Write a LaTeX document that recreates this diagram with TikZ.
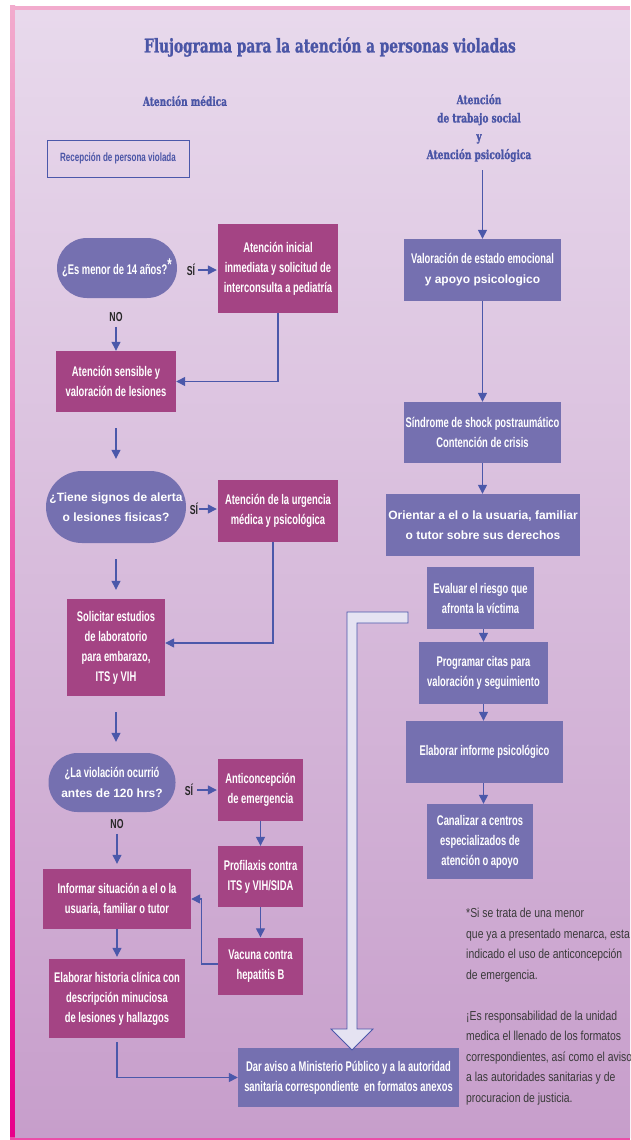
\documentclass[tikz,border=0pt]{standalone}
\usepackage{fontspec}
\setmainfont{Liberation Sans}
\newfontfamily\condf[FakeStretch=0.67]{Liberation Sans}
\newfontfamily\narrowf[FakeStretch=0.8]{Liberation Sans}
\newfontfamily\slabf[FakeStretch=0.72,FakeBold=1.2]{DejaVu Serif}
\newcommand\arl{\normalfont\bfseries\fontsize{12}{20}\selectfont}
\usetikzlibrary{arrows.meta}
\definecolor{pur}{HTML}{7570B0}
\definecolor{mag}{HTML}{A44484}
\definecolor{ablue}{HTML}{4B58AA}
\definecolor{tblue}{HTML}{4A55A6}
\definecolor{bgtop}{HTML}{E8D9EC}
\definecolor{bgmid}{HTML}{D5B7DA}
\definecolor{bgbot}{HTML}{C79ECB}
\definecolor{pinkb}{HTML}{F2ABCD}
\definecolor{magb}{HTML}{E8008A}
\definecolor{hollow}{HTML}{E5E3F2}
\definecolor{notec}{HTML}{3A3A3A}
\begin{document}
\begin{tikzpicture}[x=1pt,y=-1pt,
  box/.style={rectangle, inner sep=2pt, align=center, text=white, font=\condf\bfseries\fontsize{14}{20}\selectfont},
  pbox/.style={box, fill=pur},
  mbox/.style={box, fill=mag},
  dec/.style={box, fill=pur, rounded corners=#1},
  conn/.style={draw=ablue, line width=1.3pt, -{Triangle[width=9pt,length=9pt]}},
  lbl/.style={font=\condf\bfseries\fontsize{13}{14}\selectfont, text=black!85, inner sep=0pt},
  hdr/.style={font=\slabf\bfseries\fontsize{12.5}{18.3}\selectfont, text=tblue, align=center, inner sep=0pt},
]
\useasboundingbox (0,0) rectangle (630,1140);
\clip (0,0) rectangle (630,1140);
% background
\fill[white] (0,0) rectangle (630,1140);
\fill[pinkb] (10,6) rectangle (630,11);
\shade[top color=pinkb, bottom color=magb] (10,6) rectangle (15,1140);
\fill[magb!55!pinkb] (10,1137) rectangle (630,1140);
\shade[top color=bgtop, middle color=bgmid, bottom color=bgbot] (15,11) rectangle (630,1137);

% titles
\node[font=\slabf\bfseries\fontsize{19}{22}\selectfont, text=tblue] (title) at (330,47) {Flujograma para la atención a personas violadas};
\node[hdr] (hmed) at (185,101) {Atención médica};
\node[hdr] (hpsi) at (479,128) {Atención\\de trabajo social\\y\\Atención psicológica};
\node[draw=ablue, line width=1pt, minimum width=142, minimum height=37, inner sep=2pt,
      font=\condf\bfseries\fontsize{12}{14}\selectfont, text=tblue] (recep) at (118,158.5) {Recepción de persona violada};

% right column
\node[pbox, minimum width=157, minimum height=62] (val) at (482.5,270) {Valoración de estado emocional\\{\arl y apoyo psicologico}};
\node[pbox, minimum width=157, minimum height=61] (sind) at (482.5,432.5) {Síndrome de shock postraumático\\Contención de crisis};
\node[pbox, minimum width=194, minimum height=62, font=\arl] (ori) at (483,525) {Orientar a el o la usuaria, familiar\\o tutor sobre sus derechos};
\node[pbox, minimum width=107, minimum height=62] (eva) at (480.5,598) {Evaluar el riesgo que\\afronta la víctima};
\node[pbox, minimum width=129, minimum height=62] (prog) at (483.5,673) {Programar citas para\\valoración y seguimiento};
\node[pbox, minimum width=157, minimum height=62] (einf) at (484.5,752) {Elaborar informe psicológico};
\node[pbox, minimum width=106, minimum height=75] (can) at (480,841.5) {Canalizar a centros\\especializados de\\atención o apoyo};

\draw[conn, shorten <=8pt] (val.north |- hpsi.south) -- (val.north);
\draw[conn] (val.south) -- (sind.north);
\draw[conn] (sind.south) -- (sind.south |- ori.north);
\draw[conn] (prog.north |- eva.south) -- (prog.north);
\draw[conn] (prog.south) -- (prog.south |- einf.north);
\draw[conn] (prog.south |- einf.south) -- (prog.south |- can.north);

% left column
\node[dec=30, minimum width=120, minimum height=60] (q1) at (117,268) {¿Es menor de 14 años?\raisebox{4pt}{\fontsize{17}{17}\selectfont *}};
\node[mbox, minimum width=120, minimum height=89] (ini) at (278,268.5) {Atención inicial\\inmediata y solicitud de\\interconsulta a pediatría};
\node[lbl] (si1) at (191,270) {SÍ};
\draw[conn, shorten <=3pt, shorten >=1pt] (si1.east) -- (ini.west |- si1.east);
\node[lbl] (no1) at (116,317) {NO};
\node[mbox, minimum width=120, minimum height=61] (sens) at (116,381.5) {Atención sensible y\\valoración de lesiones};
\draw[conn, shorten <=5pt] (no1.south) -- (sens.north);
\draw[conn] (ini.south) |- (sens.east);

\node[dec=36, minimum width=140, minimum height=72, font=\arl] (q2) at (116,507) {¿Tiene signos de alerta\\o lesiones fisicas?};
\draw[conn, shorten <=16pt, shorten >=12pt] (sens.south) -- (q2.north);
\node[lbl] (si2) at (194,509) {SÍ};
\node[mbox, minimum width=120, minimum height=62] (urg) at (278,511) {Atención de la urgencia\\médica y psicológica};
\draw[conn, shorten <=1pt, shorten >=1pt] (si2.east) -- (urg.west |- si2.east);

\node[mbox, minimum width=98, minimum height=97] (sol) at (116,647.5) {Solicitar estudios\\de laboratorio\\para embarazo,\\ITS y VIH};
\draw[conn, shorten <=16pt, shorten >=9pt] (q2.south) -- (sol.north);
\draw[conn] ([xshift=-5pt]urg.south) |- ([yshift=4.5pt]sol.east);

\node[dec=29, minimum width=127, minimum height=59] (q3) at (112,782.5) {¿La violación ocurrió\\{\arl antes de 120 hrs?}};
\draw[conn, shorten <=16pt, shorten >=11pt] (sol.south) -- (sol.south |- q3.north);
\node[lbl] (si3) at (189,790) {SÍ};
\node[mbox, minimum width=85, minimum height=62] (anti) at (260.5,790) {Anticoncepción\\de emergencia};
\draw[conn, shorten <=4pt, shorten >=1pt] (si3.east) -- (anti.west |- si3.east);
\node[lbl] (no3) at (117,824) {NO};
\node[mbox, minimum width=85, minimum height=61] (prof) at (260.5,876.5) {Profilaxis contra\\ITS y VIH/SIDA};
\draw[conn] (anti.south) -- (prof.north);
\node[mbox, minimum width=148, minimum height=60] (inf) at (117,899) {Informar situación a el o la\\usuaria, familiar o tutor};
\draw[conn, shorten <=5pt, shorten >=5pt] (no3.south) -- (inf.north);
\node[mbox, minimum width=85, minimum height=57] (vac) at (260.5,966) {Vacuna contra\\hepatitis B};
\draw[conn] (prof.south) -- (vac.north);
\draw[conn] ([yshift=2pt]vac.west) -- ++(-16,0) |- (inf.east);
\node[mbox, minimum width=136, minimum height=79] (elab) at (117,998.5) {Elaborar historia clínica con\\descripción minuciosa\\de lesiones y hallazgos};
\draw[conn, shorten >=2pt] (inf.south) -- (elab.north);
\node[pbox, minimum width=221, minimum height=59] (aviso) at (348.5,1077.5) {Dar aviso a Ministerio Público y a la autoridad\\sanitaria correspondiente\ \ en formatos anexos};
\draw[conn, shorten <=4pt] (elab.south) |- (aviso.west);

% hollow arrow
\draw[ablue, line width=0.8pt, fill=hollow, line join=miter]
  (408,612) -- (347,612) -- (347,1029) -- (331,1029) -- (352,1050) -- (373,1029) -- (357,1029) -- (357,623) -- (408,623) -- cycle;

% notes
\node[anchor=north west, align=left, inner sep=0pt, text=notec, font=\narrowf\fontsize{13}{20.5}\selectfont] (nota) at (466,908)
{*Si se trata de una menor\\que ya a presentado menarca, esta\\indicado el uso de anticoncepción\\de emergencia.\\[20.5pt]¡Es responsabilidad de la unidad\\medica el llenado de los formatos\\correspondientes, así como el aviso\\a las autoridades sanitarias y de\\procuracion de justicia.};
\end{tikzpicture}
\end{document}
